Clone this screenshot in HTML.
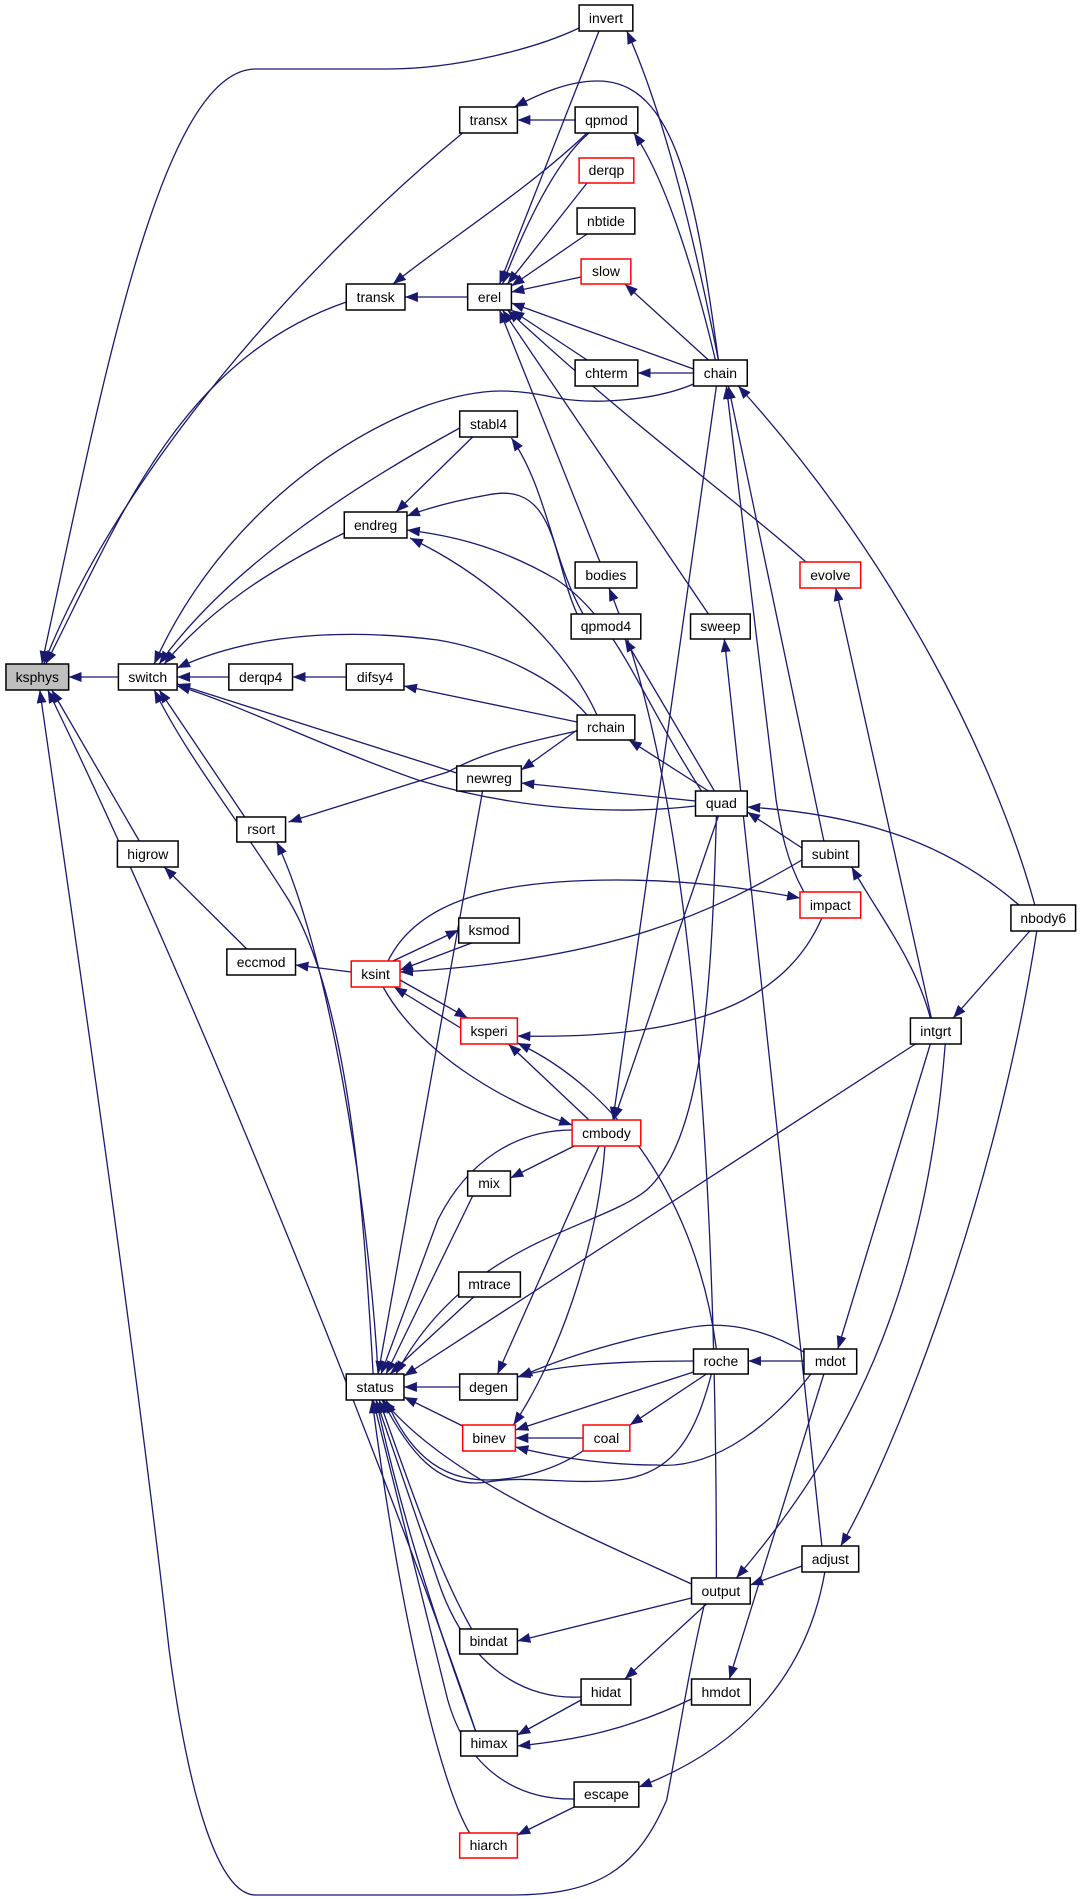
<!DOCTYPE html>
<html><head><meta charset="utf-8"><style>
html,body{margin:0;padding:0;background:#fff}
svg{display:block}
text{font-family:"Liberation Sans",Arial,sans-serif;font-size:14px;fill:#000}
</style></head><body>
<svg width="1083" height="1899" viewBox="0 0 1083 1899" xmlns="http://www.w3.org/2000/svg">
<defs>
<marker id="a" markerUnits="userSpaceOnUse" markerWidth="14" markerHeight="12" refX="13" refY="5" orient="auto">
<path d="M0,0 L13,5 L0,10 Z" fill="#191970"/>
</marker>
</defs>
<g transform="scale(0.995,1)">
<g fill="none" stroke="#191970" stroke-width="1.3" marker-end="url(#a)">
<path d="M119,677 L69,677"/>
<path d="M582,28 C540,48 460,69 389,69 L257,69 C160,69 100,400 42,664"/>
<path d="M465,133 C310,260 120,470 44,664"/>
<path d="M348,302 C180,360 120,520 46,664"/>
<path d="M140,841 L52,690"/>
<path d="M478,1731 C400,1500 200,1000 48,690"/>
<path d="M708,1604 C690,1680 680,1750 670,1800 C640,1870 600,1895 514,1895 L257,1895 C220,1895 190,1800 170,1650 C130,1300 70,900 40,690"/>
<path d="M230,677 L178,677"/>
<path d="M462,428 C330,500 220,580 160,664"/>
<path d="M348,532 C270,570 210,610 165,664"/>
<path d="M697,384 C660,400 600,405 560,398 C520,390 490,385 430,405 C320,445 210,540 155,664"/>
<path d="M590,715 C560,680 500,650 440,640 C360,630 260,630 178,668"/>
<path d="M459,773 L178,684"/>
<path d="M699,806 C620,815 520,810 420,780 C320,745 230,700 178,686"/>
<path d="M246,817 L160,690"/>
<path d="M375,1374 C365,1200 350,1000 290,900 C240,820 190,760 155,690"/>
<path d="M348,677 L294,677"/>
<path d="M580,722 L406,686"/>
<path d="M578,120 L520,120"/>
<path d="M722,360 C700,200 680,80 600,81 C570,81 540,95 517,107"/>
<path d="M470,297 L407,297"/>
<path d="M590,133 C530,190 450,240 395,284"/>
<path d="M602,31 L502,284"/>
<path d="M592,133 C560,160 530,220 505,284"/>
<path d="M590,183 L510,284"/>
<path d="M590,234 L514,286"/>
<path d="M584,277 L514,292"/>
<path d="M697,369 L514,303"/>
<path d="M590,360 L514,310"/>
<path d="M603,562 L502,310"/>
<path d="M712,614 L505,310"/>
<path d="M810,562 C740,500 640,430 510,310"/>
<path d="M722,360 C700,250 670,120 630,31"/>
<path d="M719,360 C700,280 670,180 637,133"/>
<path d="M712,360 L628,284"/>
<path d="M697,373 L641,373"/>
<path d="M828,841 L732,386"/>
<path d="M808,892 C790,860 785,830 780,800 L730,386"/>
<path d="M1040,905 C1000,760 900,560 742,386"/>
<path d="M720,386 L616,1120"/>
<path d="M722,816 L617,1120"/>
<path d="M475,437 L398,512"/>
<path d="M586,614 C555,560 550,490 514,438"/>
<path d="M580,614 C555,560 560,480 490,495 C450,502 425,510 409,516"/>
<path d="M705,791 C640,690 620,620 560,580 C500,545 450,535 409,530"/>
<path d="M600,715 C570,650 500,580 412,538"/>
<path d="M720,1578 C720,1200 700,800 612,588"/>
<path d="M718,791 L628,639"/>
<path d="M826,1546 L728,639"/>
<path d="M936,1018 L840,588"/>
<path d="M712,791 L632,740"/>
<path d="M580,730 L524,770"/>
<path d="M699,801 L524,783"/>
<path d="M580,731 C540,740 490,750 450,772 L290,822"/>
<path d="M485,791 L380,1374"/>
<path d="M380,1374 C370,1200 330,950 278,842"/>
<path d="M248,949 L165,867"/>
<path d="M353,972 L297,965"/>
<path d="M806,848 L751,812"/>
<path d="M1024,905 C960,850 880,815 751,807"/>
<path d="M390,961 C420,900 500,880 620,880 C700,880 760,890 804,898"/>
<path d="M474,943 L402,970"/>
<path d="M395,961 L461,930"/>
<path d="M806,860 C720,910 620,960 402,972"/>
<path d="M402,980 L470,1018"/>
<path d="M463,1028 L396,987"/>
<path d="M826,918 C790,1000 700,1040 520,1036"/>
<path d="M592,1120 L511,1044"/>
<path d="M720,1349 C700,1200 620,1090 520,1043"/>
<path d="M385,987 C420,1050 500,1100 575,1125"/>
<path d="M935,1018 C920,960 880,910 856,867"/>
<path d="M1035,931 L958,1018"/>
<path d="M577,1146 L513,1178"/>
<path d="M575,1130 C520,1130 470,1160 440,1220 L383,1374"/>
<path d="M475,1196 L388,1374"/>
<path d="M476,1297 L392,1374"/>
<path d="M920,1044 L406,1376"/>
<path d="M720,816 C715,1000 705,1140 650,1190 C600,1230 470,1240 398,1374"/>
<path d="M462,1387 L406,1387"/>
<path d="M465,1426 L406,1397"/>
<path d="M590,1448 C560,1470 520,1480 490,1480 C440,1480 410,1450 388,1400"/>
<path d="M715,1374 C700,1430 680,1475 620,1480 C570,1485 530,1475 490,1482 C440,1490 410,1450 384,1400"/>
<path d="M695,1584 C600,1540 450,1480 385,1400"/>
<path d="M474,1629 C440,1570 410,1480 381,1400"/>
<path d="M584,1697 C530,1700 470,1670 440,1580 L378,1400"/>
<path d="M478,1731 C430,1600 400,1500 378,1400"/>
<path d="M577,1799 C520,1800 470,1770 450,1700 L375,1400"/>
<path d="M472,1833 C440,1780 400,1600 374,1400"/>
<path d="M602,1146 L500,1374"/>
<path d="M697,1361 C620,1361 560,1365 520,1377"/>
<path d="M808,1352 C770,1330 730,1320 690,1328 C620,1340 560,1360 522,1377"/>
<path d="M608,1146 C600,1250 560,1360 516,1425"/>
<path d="M697,1372 L518,1430"/>
<path d="M586,1438 L518,1438"/>
<path d="M815,1374 C780,1420 720,1470 660,1465 C600,1465 550,1455 518,1447"/>
<path d="M710,1374 L633,1425"/>
<path d="M808,1361 L752,1361"/>
<path d="M935,1044 L842,1349"/>
<path d="M950,1044 C930,1300 850,1450 740,1578"/>
<path d="M806,1566 L754,1585"/>
<path d="M1042,931 C1000,1200 900,1450 845,1546"/>
<path d="M695,1598 L520,1641"/>
<path d="M710,1604 L628,1679"/>
<path d="M584,1700 L520,1735"/>
<path d="M695,1699 C630,1730 580,1740 520,1746"/>
<path d="M828,1374 L733,1679"/>
<path d="M829,1572 C810,1680 740,1750 642,1787"/>
<path d="M577,1807 L520,1835"/>
</g>
<g stroke-width="1.5">
<rect x="6" y="664" width="63" height="26" fill="#bfbfbf" stroke="#000"/>
<rect x="119" y="664" width="59" height="26" fill="#fff" stroke="#000"/>
<rect x="230" y="664" width="64" height="26" fill="#fff" stroke="#000"/>
<rect x="348" y="664" width="58" height="26" fill="#fff" stroke="#000"/>
<rect x="582" y="5" width="54" height="26" fill="#fff" stroke="#000"/>
<rect x="462" y="107" width="58" height="26" fill="#fff" stroke="#000"/>
<rect x="578" y="107" width="63" height="26" fill="#fff" stroke="#000"/>
<rect x="582" y="158" width="55" height="25" fill="#fff" stroke="#f00"/>
<rect x="580" y="208" width="58" height="26" fill="#fff" stroke="#000"/>
<rect x="584" y="259" width="50" height="25" fill="#fff" stroke="#f00"/>
<rect x="348" y="284" width="59" height="26" fill="#fff" stroke="#000"/>
<rect x="470" y="284" width="44" height="26" fill="#fff" stroke="#000"/>
<rect x="578" y="360" width="63" height="26" fill="#fff" stroke="#000"/>
<rect x="697" y="360" width="54" height="26" fill="#fff" stroke="#000"/>
<rect x="462" y="411" width="58" height="26" fill="#fff" stroke="#000"/>
<rect x="346" y="512" width="63" height="26" fill="#fff" stroke="#000"/>
<rect x="578" y="562" width="62" height="26" fill="#fff" stroke="#000"/>
<rect x="804" y="562" width="61" height="26" fill="#fff" stroke="#f00"/>
<rect x="574" y="614" width="70" height="25" fill="#fff" stroke="#000"/>
<rect x="694" y="614" width="60" height="25" fill="#fff" stroke="#000"/>
<rect x="580" y="715" width="58" height="25" fill="#fff" stroke="#000"/>
<rect x="459" y="766" width="65" height="25" fill="#fff" stroke="#000"/>
<rect x="699" y="791" width="52" height="25" fill="#fff" stroke="#000"/>
<rect x="238" y="817" width="49" height="25" fill="#fff" stroke="#000"/>
<rect x="118" y="841" width="61" height="26" fill="#fff" stroke="#000"/>
<rect x="806" y="841" width="57" height="26" fill="#fff" stroke="#000"/>
<rect x="804" y="892" width="61" height="26" fill="#fff" stroke="#f00"/>
<rect x="1016" y="905" width="65" height="26" fill="#fff" stroke="#000"/>
<rect x="461" y="918" width="61" height="25" fill="#fff" stroke="#000"/>
<rect x="228" y="949" width="69" height="26" fill="#fff" stroke="#000"/>
<rect x="353" y="961" width="49" height="26" fill="#fff" stroke="#f00"/>
<rect x="463" y="1018" width="57" height="26" fill="#fff" stroke="#f00"/>
<rect x="915" y="1018" width="51" height="26" fill="#fff" stroke="#000"/>
<rect x="575" y="1120" width="69" height="26" fill="#fff" stroke="#f00"/>
<rect x="470" y="1171" width="43" height="25" fill="#fff" stroke="#000"/>
<rect x="461" y="1272" width="62" height="25" fill="#fff" stroke="#000"/>
<rect x="697" y="1349" width="55" height="25" fill="#fff" stroke="#000"/>
<rect x="808" y="1349" width="53" height="25" fill="#fff" stroke="#000"/>
<rect x="348" y="1374" width="58" height="26" fill="#fff" stroke="#000"/>
<rect x="462" y="1374" width="58" height="26" fill="#fff" stroke="#000"/>
<rect x="465" y="1425" width="53" height="26" fill="#fff" stroke="#f00"/>
<rect x="586" y="1425" width="47" height="26" fill="#fff" stroke="#f00"/>
<rect x="806" y="1546" width="57" height="26" fill="#fff" stroke="#000"/>
<rect x="695" y="1578" width="59" height="26" fill="#fff" stroke="#000"/>
<rect x="462" y="1629" width="58" height="25" fill="#fff" stroke="#000"/>
<rect x="584" y="1679" width="50" height="26" fill="#fff" stroke="#000"/>
<rect x="695" y="1679" width="59" height="26" fill="#fff" stroke="#000"/>
<rect x="463" y="1731" width="57" height="25" fill="#fff" stroke="#000"/>
<rect x="577" y="1782" width="65" height="25" fill="#fff" stroke="#000"/>
<rect x="462" y="1833" width="58" height="25" fill="#fff" stroke="#f00"/>
</g>
<g text-anchor="middle">
<text x="37.5" y="682">ksphys</text>
<text x="148.5" y="682">switch</text>
<text x="262" y="682">derqp4</text>
<text x="377" y="682">difsy4</text>
<text x="609" y="23">invert</text>
<text x="491" y="125">transx</text>
<text x="609.5" y="125">qpmod</text>
<text x="609.5" y="175">derqp</text>
<text x="609" y="226">nbtide</text>
<text x="609" y="276">slow</text>
<text x="377.5" y="302">transk</text>
<text x="492" y="302">erel</text>
<text x="609.5" y="378">chterm</text>
<text x="724" y="378">chain</text>
<text x="491" y="429">stabl4</text>
<text x="377.5" y="530">endreg</text>
<text x="609" y="580">bodies</text>
<text x="834.5" y="580">evolve</text>
<text x="609" y="631">qpmod4</text>
<text x="724" y="631">sweep</text>
<text x="609" y="732">rchain</text>
<text x="491.5" y="783">newreg</text>
<text x="725" y="808">quad</text>
<text x="262.5" y="834">rsort</text>
<text x="148.5" y="859">higrow</text>
<text x="834.5" y="859">subint</text>
<text x="834.5" y="910">impact</text>
<text x="1048.5" y="923">nbody6</text>
<text x="491.5" y="935">ksmod</text>
<text x="262.5" y="967">eccmod</text>
<text x="377.5" y="979">ksint</text>
<text x="491.5" y="1036">ksperi</text>
<text x="940.5" y="1036">intgrt</text>
<text x="609.5" y="1138">cmbody</text>
<text x="491.5" y="1188">mix</text>
<text x="492" y="1289">mtrace</text>
<text x="724.5" y="1366">roche</text>
<text x="834.5" y="1366">mdot</text>
<text x="377" y="1392">status</text>
<text x="491" y="1392">degen</text>
<text x="491.5" y="1443">binev</text>
<text x="609.5" y="1443">coal</text>
<text x="834.5" y="1564">adjust</text>
<text x="724.5" y="1596">output</text>
<text x="491" y="1646">bindat</text>
<text x="609" y="1697">hidat</text>
<text x="724.5" y="1697">hmdot</text>
<text x="491.5" y="1748">himax</text>
<text x="609.5" y="1799">escape</text>
<text x="491" y="1850">hiarch</text>
</g>
</g>
</svg>
</body></html>
